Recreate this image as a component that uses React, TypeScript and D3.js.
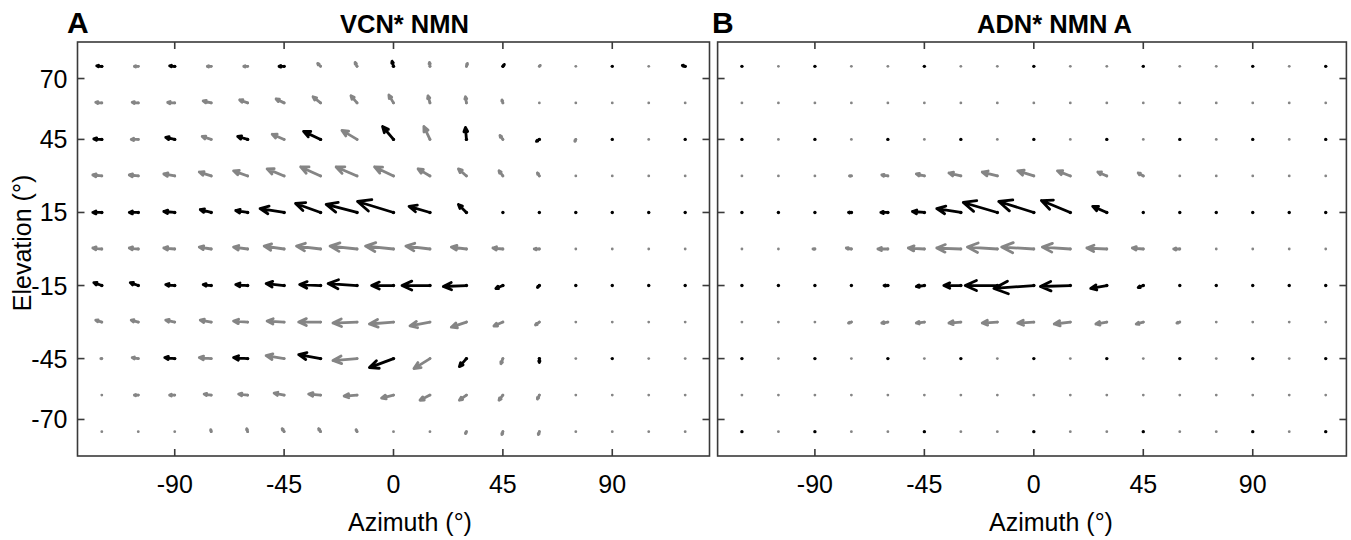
import React from "react";
import * as d3 from "d3";

// Grid of measurement positions (degrees)
const azimuths = [-120, -105, -90, -75, -60, -45, -30, -15, 0, 15, 30, 45, 60, 75, 90, 105, 120];
const elevations = [75, 60, 45, 30, 15, 0, -15, -30, -45, -60, -75];
const xTicks = [-90, -45, 0, 45, 90];
const yTicks = [70, 45, 15, -15, -45, -70];

// Panel A: VCN* NMN — azimuth (u) and elevation (v) components, degrees; rows follow `elevations`
const vcnU = [
  [-2.1, -1.6, -2.1, -1.6, -1.6, -2.1, -1.2, -0.8, -0.6, -0.2, 0.4, 0.6, 0.4, 0, 0, 0, -1.2],
  [-2.5, -2.5, -2.9, -3.3, -3.3, -3.3, -3.1, -2.5, -1.9, -0.8, -0.4, -0.4, 0, 0, 0, 0, 0],
  [-3.3, -2.9, -3.7, -3.7, -4.1, -4.9, -7.0, -6.2, -4.5, -2.5, -0.4, -1.2, -1.2, -0.4, 0, 0, 0],
  [-3.7, -3.7, -4.5, -4.9, -5.8, -7.0, -8.2, -8.6, -7.8, -4.9, -3.3, -1.6, -0.8, 0, 0, 0, 0],
  [-3.7, -3.7, -4.5, -4.5, -4.9, -9.9, -10.3, -12.7, -14.8, -8.6, -3.3, 0, 0, 0, 0, 0, 0],
  [-3.7, -3.7, -4.5, -4.9, -5.8, -8.2, -9.9, -11.1, -11.5, -9.9, -6.2, -4.1, -2.1, 0, 0, 0, 0],
  [-3.3, -3.3, -3.7, -3.3, -4.9, -7.4, -8.6, -11.9, -9.0, -11.5, -9.5, -2.9, -0.8, 0, 0, 0, 0],
  [-2.5, -2.9, -3.7, -4.5, -5.8, -7.0, -9.0, -9.9, -9.9, -8.2, -6.2, -3.7, -1.6, 0, 0, 0, 0],
  [-0.4, -2.5, -4.1, -4.9, -5.8, -7.4, -9.0, -9.9, -9.9, -6.6, -2.9, -0.8, 0, 0, 0, 0, 0],
  [0, -1.6, -2.1, -2.9, -3.7, -4.1, -4.9, -5.3, -4.9, -4.1, -2.9, -1.6, -0.8, 0, 0, 0, 0],
  [0, 0, 0, -0.2, -0.4, -0.8, -0.8, -0.4, 0, 0, -0.4, -0.4, -0.4, 0, 0, 0, 0],
];
const vcnV = [
  [0.2, 0, 0.2, 0, 0, 0, 1.2, 1.6, 2.1, 1.6, 1.2, 0.8, 0.4, 0, 0, 0, 0.4],
  [0.2, 0.2, 0.2, 0.8, 1.2, 1.6, 2.5, 2.9, 3.2, 2.9, 2.5, 1.2, 0.2, 0, 0, 0, 0],
  [0.2, 0, 0.8, 1.2, 1.2, 2.1, 3.3, 3.7, 5.3, 5.3, 4.9, 1.6, -0.8, -0.8, 0, 0, 0],
  [0.4, 0.4, 0.8, 1.6, 2.1, 2.9, 3.7, 3.7, 3.7, 2.9, 2.9, 2.1, 1.2, 0, 0, 0, 0],
  [0, 0, 0.4, 1.2, 0.8, 1.6, 3.7, 3.3, 4.5, 2.5, 3.3, 0, 0, 0, 0, 0, 0],
  [0.4, 0.4, 0.4, 0.8, 0.8, 1.2, 1.2, 1.2, 1.2, 1.2, 0.8, 0.4, 0, 0, 0, 0, 0],
  [1.2, 1.2, 0.4, 0.4, 0.4, 0.8, 0.4, 0.8, 0, 0, -0.4, -1.2, -0.8, 0, 0, 0, 0],
  [0.8, 0.8, 0.8, 0.8, 0.4, 0.4, 0, -0.4, -0.8, -1.6, -2.1, -1.6, -1.2, 0, 0, 0, 0],
  [0, 0.4, 0.4, 0.4, 0.4, 1.2, 1.6, -0.8, -3.7, -4.1, -3.3, -2.1, -1.6, 0, 0, 0, 0],
  [0, 0, 0, 0.4, 0.4, 0.8, 0.4, -0.4, -1.2, -2.1, -2.1, -2.1, -1.6, 0, 0, 0, 0],
  [0, 0, 0, 0.8, 1.2, 1.2, 1.2, 0.8, 0, 0, -0.8, -1.2, -1.2, 0, 0, 0, 0],
];
// Measured (black) positions per row of panel A
const vcnBlack = [
  [-120, -90, -45, 0, 45, 90, 120],
  [],
  [-120, -90, -60, -30, 0, 30, 60, 90, 120],
  [],
  azimuths,
  [],
  azimuths,
  [],
  [-90, -60, -30, 0, 30, 60, 90],
  [],
  [],
];

// Panel B: ADN* NMN A
const adnU = [
  [0, 0, 0, 0, 0, 0, 0, 0, 0, 0, 0, 0, 0, 0, 0, 0, 0],
  [0, 0, 0, 0, 0, 0, 0, 0, 0, 0, 0, 0, 0, 0, 0, 0, 0],
  [0, 0, 0, 0, 0, 0, 0, 0, 0, 0, 0, 0, 0, 0, 0, 0, 0],
  [0, 0, 0, -0.8, -2.5, -3.3, -4.9, -6.2, -6.6, -5.3, -3.7, -2.1, 0, 0, 0, 0, 0],
  [0, 0, 0, -1.2, -2.9, -4.9, -9.9, -14.0, -14.4, -11.9, -5.8, 0, 0, 0, 0, 0, 0],
  [0, 0, -0.8, -2.1, -4.1, -6.6, -9.9, -12.3, -13.2, -11.5, -8.2, -4.5, -2.5, 0, 0, 0, 0],
  [0, 0, 0, 0, -1.6, -3.3, -7.0, -13.2, -16.4, -12.3, -6.6, -2.1, 0, 0, 0, 0, 0],
  [0, 0, 0, -1.2, -2.5, -3.3, -4.9, -6.2, -6.6, -6.6, -4.5, -2.9, -1.2, 0, 0, 0, 0],
  [0, 0, 0, 0, 0, 0, 0, 0, 0, 0, 0, 0, 0, 0, 0, 0, 0],
  [0, 0, 0, 0, 0, 0, 0, 0, 0, 0, 0, 0, 0, 0, 0, 0, 0],
  [0, 0, 0, 0, 0, 0, 0, 0, 0, 0, 0, 0, 0, 0, 0, 0, 0],
];
const adnV = [
  [0, 0, 0, 0, 0, 0, 0, 0, 0, 0, 0, 0, 0, 0, 0, 0, 0],
  [0, 0, 0, 0, 0, 0, 0, 0, 0, 0, 0, 0, 0, 0, 0, 0, 0],
  [0, 0, 0, 0, 0, 0, 0, 0, 0, 0, 0, 0, 0, 0, 0, 0, 0],
  [0, 0, 0, 0, 0.4, 0.8, 1.2, 1.6, 2.1, 2.1, 1.6, 1.2, 0, 0, 0, 0, 0],
  [0, 0, 0, 0, 0, 0.4, 1.6, 4.1, 4.5, 4.9, 2.5, 0, 0, 0, 0, 0, 0],
  [0, 0, 0, 0.4, 0, 0.4, 0.4, 0.8, 0.8, 0.8, 0.4, 0.4, 0, 0, 0, 0, 0],
  [0, 0, 0, 0, 0, -0.4, 0, 0, -1.2, -0.4, -1.2, -0.8, 0, 0, 0, 0, 0],
  [0, 0, 0, -0.4, -0.4, -0.4, -0.4, -0.4, -0.4, -0.8, -0.8, -0.8, -0.4, 0, 0, 0, 0],
  [0, 0, 0, 0, 0, 0, 0, 0, 0, 0, 0, 0, 0, 0, 0, 0, 0],
  [0, 0, 0, 0, 0, 0, 0, 0, 0, 0, 0, 0, 0, 0, 0, 0, 0],
  [0, 0, 0, 0, 0, 0, 0, 0, 0, 0, 0, 0, 0, 0, 0, 0, 0],
];
const adnBlack = [
  [-120, -90, -45, 0, 45, 90, 120],
  [],
  [-120, -90, -60, -30, 0, 30, 60, 90, 120],
  [],
  azimuths,
  [],
  azimuths,
  [],
  [-120, -90, -60, -30, 0, 30, 60, 90, 120],
  [],
  [-120, -90, -45, 0, 45, 90, 120],
];

const FONT = "'Liberation Sans', Arial, Helvetica, sans-serif";
const BLACK = "#000000";
const GRAY = "#858585";
const FRAME = "#3a3a3a";

type PanelProps = {
  x0: number;
  x1: number;
  xDomain: [number, number];
  U: number[][];
  V: number[][];
  black: number[][];
  letter: string;
  letterX: number;
  title: string;
  titleX: number;
  xLabelX: number;
  showYLabels: boolean;
};

function Panel(p: PanelProps) {
  const x = d3.scaleLinear().domain(p.xDomain).range([p.x0, p.x1]);
  const y = d3.scaleLinear().domain([-85, 85]).range([456, 42]);
  const [top, bottom] = [y(85), y(-85)];
  const tickLen = 7;
  const a = 0.35;
  const b = 0.45;

  const arrows: React.ReactElement[] = [];
  elevations.forEach((el, ri) => {
    azimuths.forEach((az, ci) => {
      const u = p.U[ri][ci];
      const v = p.V[ri][ci];
      const isBlack = p.black[ri].includes(az);
      const color = isBlack ? BLACK : GRAY;
      const tx = x(az);
      const ty = y(el);
      const hx = x(az + u);
      const hy = y(el + v);
      const dx = hx - tx;
      const dy = hy - ty;
      const len = Math.hypot(dx, dy);
      let d = "";
      if (len > 0.5) {
        const bx = hx - a * dx;
        const by = hy - a * dy;
        const px = -dy * a * b;
        const py = dx * a * b;
        d = `M${tx},${ty}L${hx},${hy}M${bx + px},${by + py}L${hx},${hy}L${bx - px},${by - py}`;
      }
      arrows.push(
        <g key={`${ri}-${ci}`}>
          <circle cx={tx} cy={ty} r={isBlack ? 1.7 : 1.4} fill={color} />
          {d && (
            <path
              d={d}
              fill="none"
              stroke={color}
              strokeWidth={2.8}
              strokeLinecap="round"
              strokeLinejoin="round"
            />
          )}
        </g>
      );
    });
  });

  return (
    <g>
      <text x={p.letterX} y={33} fontFamily={FONT} fontSize={30} fontWeight="bold">
        {p.letter}
      </text>
      <text x={p.titleX} y={33} fontFamily={FONT} fontSize={25.5} fontWeight="bold">
        {p.title}
      </text>
      {arrows}
      <rect
        x={p.x0}
        y={top}
        width={p.x1 - p.x0}
        height={bottom - top}
        fill="none"
        stroke={FRAME}
        strokeWidth={1.6}
      />
      {xTicks.map((t) => (
        <g key={`xt${t}`}>
          <line x1={x(t)} x2={x(t)} y1={bottom} y2={bottom - tickLen} stroke={FRAME} strokeWidth={1.6} />
          <line x1={x(t)} x2={x(t)} y1={top} y2={top + tickLen} stroke={FRAME} strokeWidth={1.6} />
          <text
            x={x(t)}
            y={493}
            textAnchor="middle"
            fontFamily={FONT}
            fontSize={25}
            fill="#000"
          >
            {t}
          </text>
        </g>
      ))}
      {yTicks.map((t) => (
        <g key={`yt${t}`}>
          <line x1={p.x0} x2={p.x0 + tickLen} y1={y(t)} y2={y(t)} stroke={FRAME} strokeWidth={1.6} />
          <line x1={p.x1} x2={p.x1 - tickLen} y1={y(t)} y2={y(t)} stroke={FRAME} strokeWidth={1.6} />
          {p.showYLabels && (
            <text
              x={p.x0 - 10}
              y={y(t)}
              dy="0.36em"
              textAnchor="end"
              fontFamily={FONT}
              fontSize={25}
              fill="#000"
            >
              {t}
            </text>
          )}
        </g>
      ))}
      <text x={p.xLabelX} y={531} textAnchor="middle" fontFamily={FONT} fontSize={25} fill="#000">
        Azimuth (°)
      </text>
      {p.showYLabels && (
        <text
          transform={`translate(31,243) rotate(-90)`}
          textAnchor="middle"
          fontFamily={FONT}
          fontSize={25}
          fill="#000"
        >
          Elevation (°)
        </text>
      )}
    </g>
  );
}

export default function App() {
  return (
    <svg
      width={1351}
      height={540}
      style={{ position: "absolute", left: 0, top: 0, background: "#fff" }}
    >
      <rect x={0} y={0} width={1351} height={540} fill="#fff" />
      <Panel
        x0={77.5}
        x1={709.5}
        xDomain={[-130, 130]}
        U={vcnU}
        V={vcnV}
        black={vcnBlack}
        letter="A"
        letterX={67}
        title="VCN* NMN"
        titleX={340}
        xLabelX={410}
        showYLabels={true}
      />
      <Panel
        x0={717.6}
        x1={1346.4}
        xDomain={[-130, 128.5]}
        U={adnU}
        V={adnV}
        black={adnBlack}
        letter="B"
        letterX={712}
        title="ADN* NMN A"
        titleX={977}
        xLabelX={1051}
        showYLabels={false}
      />
    </svg>
  );
}
